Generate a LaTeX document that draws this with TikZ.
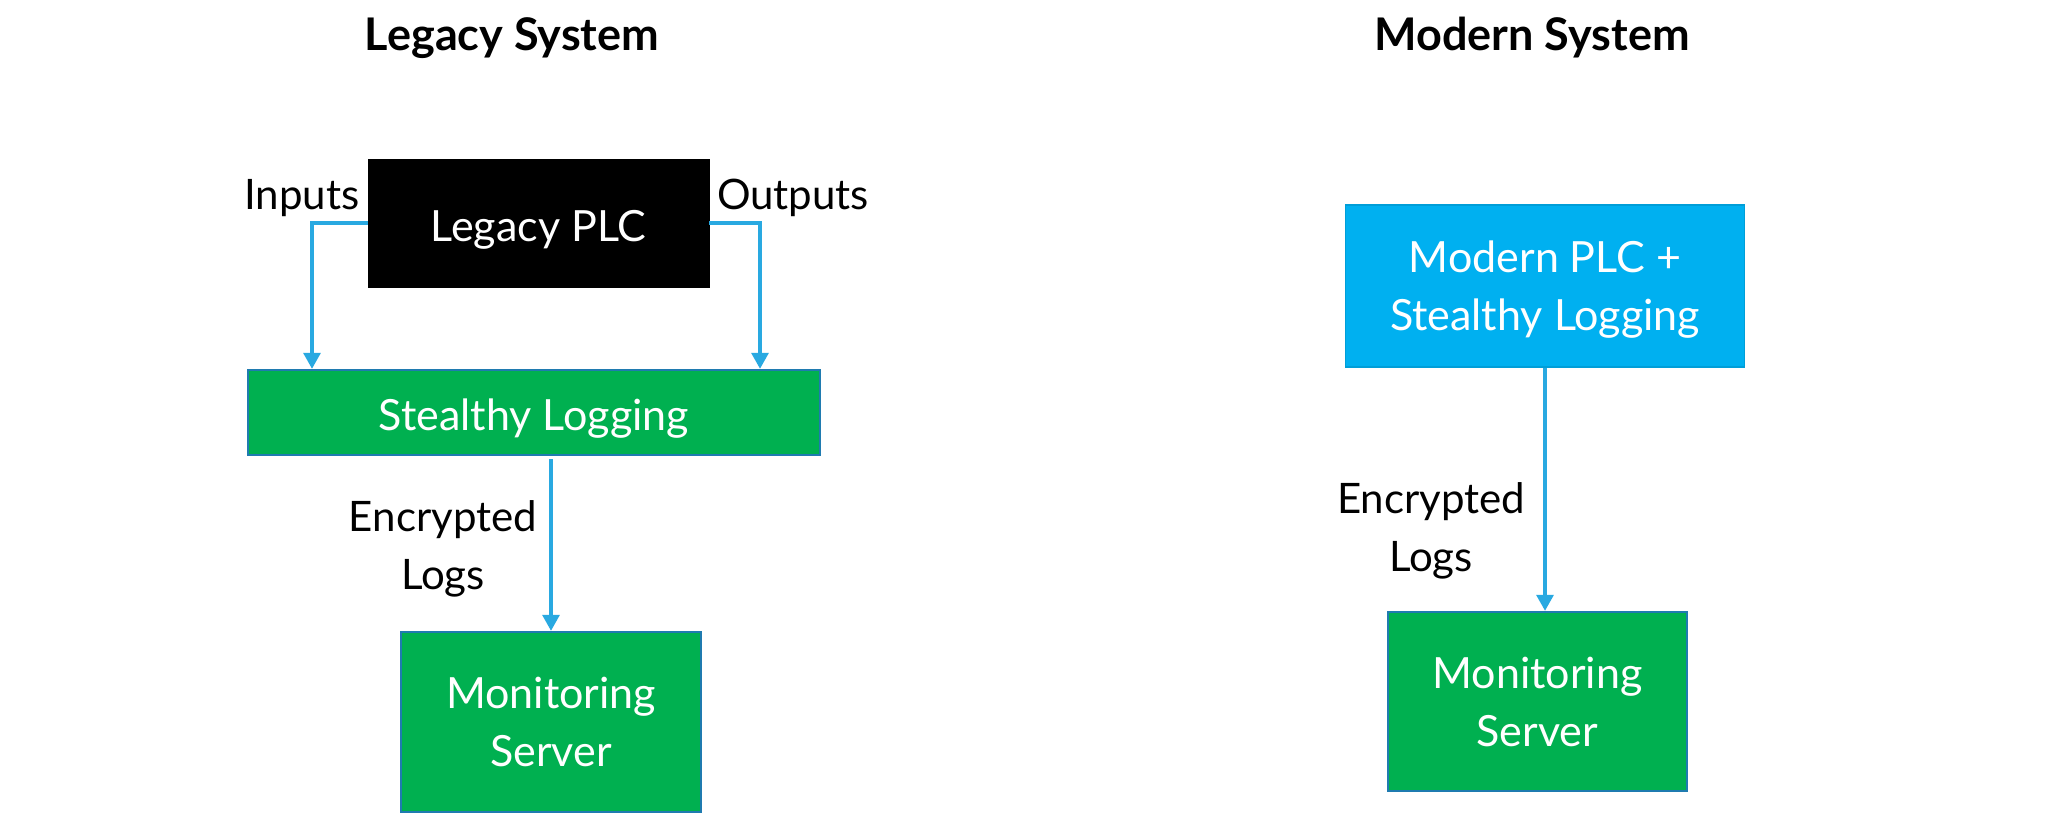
\documentclass[tikz,border=0pt]{standalone}
\usepackage{fontspec}
\setmainfont{Lato}
\usetikzlibrary{arrows.meta,positioning}

\definecolor{boxgreen}{HTML}{00B050}
\definecolor{boxblue}{HTML}{00B0F0}
\definecolor{edgeblue}{HTML}{1F7BB0}
\definecolor{flowblue}{HTML}{29A9E1}

\tikzset{
  blockbox/.style={rectangle, inner sep=0pt, align=center, text=white,
    text depth=0pt, font=\fontsize{21.5}{29}\selectfont},
  oneline/.style={text height=18pt},
  greenbox/.style={blockbox, fill=boxgreen, draw=edgeblue, line width=1.2pt},
  bluebox/.style={blockbox, fill=boxblue, draw=boxblue!90!black, line width=0.6pt},
  blackbox/.style={blockbox, fill=black, draw=black},
  flow/.style={draw=flowblue, line width=1.6pt,
    -{Triangle[length=8pt,width=8.5pt]}},
  lbl/.style={inner sep=0pt, align=center, font=\fontsize{21}{29}\selectfont},
  heading/.style={inner sep=0pt, font=\bfseries\fontsize{22.5}{27}\selectfont}
}

\begin{document}
\begin{tikzpicture}[x=0.5pt,y=-0.5pt]
  \useasboundingbox[fill=white] (0,0) rectangle (2048,815);

  % headings
  \node[heading] (tl) at (512,38) {Legacy System};
  \node[heading] (tr) at (1532,38) {Modern System};

  % legacy side
  \node[blackbox, oneline, minimum width=170.5pt, minimum height=64pt] (plc) at (538.5,223) {Legacy PLC};
  \node[greenbox, oneline, minimum width=286pt, minimum height=42.5pt] (log) at (534,412.5) {Stealthy Logging};
  \node[greenbox, minimum width=150pt, minimum height=90pt] (monl) at (551,722) {Monitoring\\Server};

  \coordinate (inx) at (312,0);
  \coordinate (outx) at (760,0);
  \draw[flow] (plc.west) -| (inx |- log.north);
  \draw[flow] (plc.east) -| (outx |- log.north);
  \draw[flow] ([yshift=-1.5pt]monl.north |- log.south) -- (monl.north);

  \node[lbl] (inl) at (302,198) {Inputs};
  \node[lbl] (outl) at (793,198) {Outputs};
  \node[lbl] (encl) at (443,549) {Encrypted\\Logs};

  % modern side
  \node[bluebox, minimum width=199.5pt, minimum height=81pt] (mod) at (1545,286) {Modern PLC +\\Stealthy Logging};
  \node[greenbox, minimum width=149.5pt, minimum height=89.5pt] (monr) at (1537.5,701.5) {Monitoring\\Server};
  \draw[flow] (mod.south) -- (mod.south |- monr.north);
  \node[lbl] (encr) at (1431,530.5) {Encrypted\\Logs};
\end{tikzpicture}
\end{document}
